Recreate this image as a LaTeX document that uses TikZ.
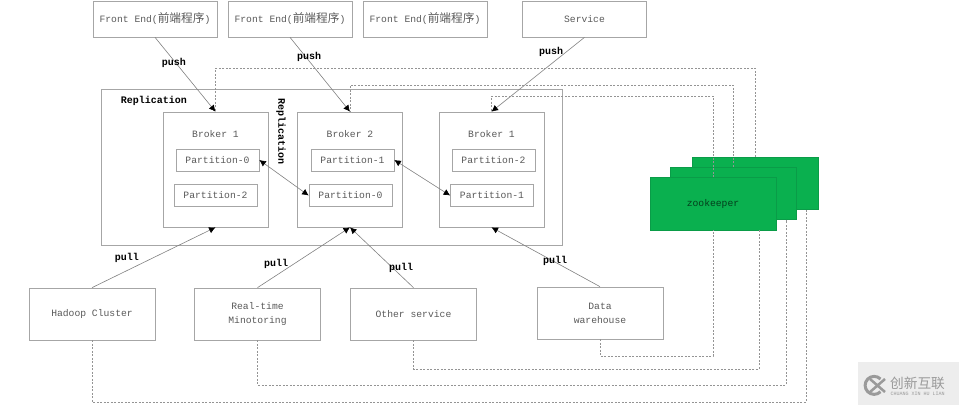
\documentclass[tikz,border=0pt]{standalone}
\usepackage{fontspec}
\setmainfont{Liberation Mono}
\newfontfamily\cjk{Noto Sans CJK SC}
\usetikzlibrary{calc,arrows,arrows.meta,positioning}
\definecolor{linegray}{HTML}{A6A6A6}
\definecolor{textgray}{HTML}{595959}
\definecolor{zkgreen}{HTML}{0AB04F}
\definecolor{zkedge}{HTML}{0A9C48}
\definecolor{markgray}{HTML}{9A9A9A}
\newcommand{\zhtext}{{\cjk\fontsize{11.7}{14}\selectfont 前端程序}}
\tikzset{
    box/.style={
    rectangle,draw=linegray,line width=0.7pt,inner sep=0pt,align=center,text=textgray,font=\fontsize{9.7}{14}\selectfont
    },
    front/.style={
    box,minimum width=124pt,minimum height=36pt
    },
    broker/.style={
    box,minimum width=105pt,minimum height=115pt
    },
    part/.style={
    box,minimum width=83pt,minimum height=22pt
    },
    client/.style={
    box,minimum width=126pt,minimum height=52pt
    },
    zk/.style={
    rectangle,fill=zkgreen,draw=zkedge,line width=0.5pt,minimum width=125.5pt,minimum height=52.5pt,inner sep=0pt,text=black!65!zkgreen,font=\fontsize{9.7}{12}\selectfont
    },
    tag/.style={
    text=black,inner sep=0pt,font=\fontsize{10}{12}\selectfont\bfseries
    },
    solidline/.style={
    draw=black!50,line width=0.6pt
    },
    zkline/.style={
    draw=black!42,line width=0.6pt,dash pattern=on 2pt off 1.5pt
    },
    tip/.style={
    -{Latex[black,length=6.5pt,width=6.5pt]}
    },
    bothtip/.style={
    {Latex[black,length=6.5pt,width=6.5pt]}-{Latex[black,length=6.5pt,width=6.5pt]}
    },
}
\begin{document}
\begin{tikzpicture}[x=1pt,y=-1pt]
   \useasboundingbox (0,0) rectangle (959,405);
   % top row
   \node[front] (fe1) at (155,19) {Front End(\zhtext)};
   \node[front] (fe2) at (290,19) {Front End(\zhtext)};
   \node[front] (fe3) at (425,19) {Front End(\zhtext)};
   \node[front] (svc) at (584.5,19) {Service};

   % brokers
   \node[box,minimum width=461pt,minimum height=156pt] (repl) at (331.5,167) {};
   \node[broker] (b1) at (215.5,169.5) {};
   \node[broker] (b2) at (350,169.5) {};
   \node[broker] (b3) at (491.5,169.5) {};
   \node[box,draw=none] (b1t) at (215.5,134) {Broker 1};
   \node[box,draw=none] (b2t) at (350,134) {Broker 2};
   \node[box,draw=none] (b3t) at (491.5,134) {Broker 1};
   \node[part] (p10) at (217.5,160) {Partition-0};
   \node[part] (p12) at (215.5,195.5) {Partition-2};
   \node[part] (p21) at (352.5,160) {Partition-1};
   \node[part] (p20) at (350.5,195.5) {Partition-0};
   \node[part] (p32) at (493.5,160) {Partition-2};
   \node[part] (p31) at (492,195.5) {Partition-1};

   % zookeeper
   \node[zk] (zkc) at (755,183) {};
   \node[zk] (zkb) at (733,193) {};
   \node[zk] (zka) at (713,203.5) {zookeeper};

   % bottom row
   \node[client] (hc) at (92,314) {Hadoop Cluster};
   \node[client] (rt) at (257.5,314) {Real-time\\Minotoring};
   \node[client] (os) at (413.5,314) {Other service};
   \node[client] (dw) at (600,313) {Data\\warehouse};

   % dashed corners
   \coordinate (t1) at (755,68);
   \coordinate (t2) at (733,85);
   \coordinate (t3) at (713,96);
   \coordinate (u1) at (713,356);
   \coordinate (u2) at (759,369);
   \coordinate (u3) at (786,385);
   \coordinate (u4) at (806,402);
   \coordinate (z2) at (759,230);
   \coordinate (z3) at (786,219.5);
   \coordinate (z4) at (806,209.5);

   \path[solidline]
    (fe1.south) edge[tip] (b1.north)
    (fe2.south) edge[tip] (b2.north)
    (svc.south) edge[tip] (b3.north)
    (hc.north) edge[tip] (b1.south)
    (rt.north) edge[tip] (b2.south)
    (os.north) edge[tip] (b2.south)
    (dw.north) edge[tip] (b3.south)
    (p10.east) edge[bothtip] (p20.west)
    (p21.east) edge[bothtip] (p31.west);

   \draw[zkline] (zkc.north) -- (t1) -| (b1.north);
   \draw[zkline] (zkb.north) -- (t2) -| (b2.north);
   \draw[zkline] (zka.north) -- (t3) -| (b3.north);
   \draw[zkline] (dw.south) |- (u1) -- (zka.south);
   \draw[zkline] (os.south) |- (u2) -- (z2);
   \draw[zkline] (rt.south) |- (u3) -- (z3);
   \draw[zkline] (hc.south) |- (u4) -- (z4);

   % labels
   \node[tag] (l1) at (174,63) {push};
   \node[tag] (l2) at (309,57) {push};
   \node[tag] (l3) at (551,52) {push};
   \node[tag] (l4) at (154,101) {Replication};
   \node[tag,rotate=-90] (l5) at (281,132) {Replication};
   \node[tag] (l6) at (127,258) {pull};
   \node[tag] (l7) at (276,264) {pull};
   \node[tag] (l8) at (401,268) {pull};
   \node[tag] (l9) at (555,261) {pull};

   % watermark
   \fill[black!7] (858,362) rectangle (959,405);
   \draw[markgray,line width=3pt] (880.5,379) arc (45:315:9pt);
   \draw[markgray,line width=2.5pt] (870,379) -- (885,392) (885,379) -- (870,392);
   \node[inner sep=0pt,text=markgray,font=\cjk\fontsize{13.7}{16}\selectfont] (mk1) at (917.5,383) {创新互联};
   \node[inner sep=0pt,text=markgray,font=\fontsize{5}{5}\selectfont] (mk2) at (917.5,393.5) {CHUANG XIN HU LIAN};
\end{tikzpicture}
\end{document}
